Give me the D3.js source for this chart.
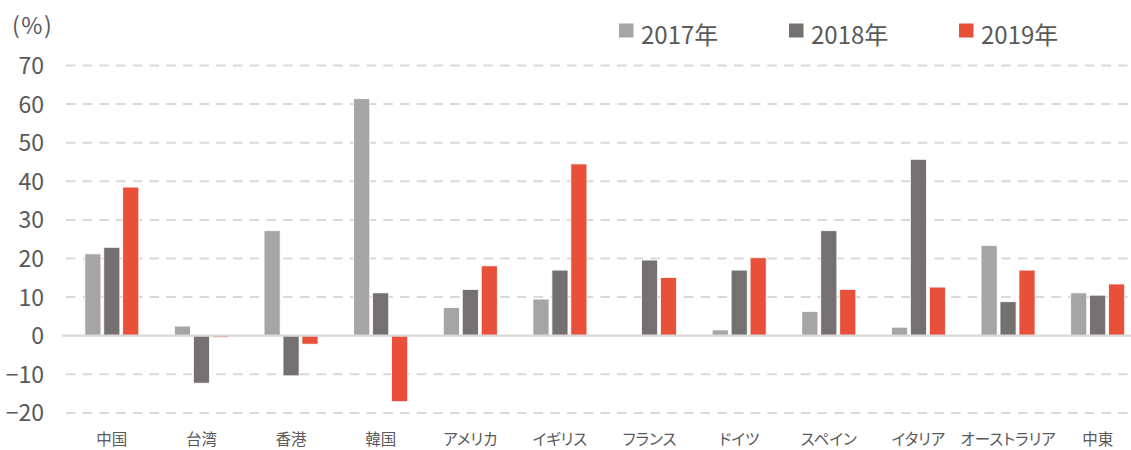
<!DOCTYPE html>
<html><head><meta charset="utf-8">
<script src="https://cdn.jsdelivr.net/npm/d3@7/dist/d3.min.js"></script>
<style>
body{margin:0;background:#fff;}
text{font-family:"Noto Sans CJK JP","Noto Sans",sans-serif;fill:#595959;}
.xl text{font-feature-settings:"palt" 1;}
</style></head>
<body><svg id="c" width="1131" height="450"></svg>
<script>
const categories = ["中国","台湾","香港","韓国","アメリカ","イギリス","フランス","ドイツ","スペイン","イタリア","オーストラリア","中東"];
const seriesNames = ["2017年","2018年","2019年"];
const v2017 = [21.2, 2.5, 27.2, 61.4, 7.3, 9.5, 0.2, 1.5, 6.3, 2.2, 23.4, 11.1];
const v2018 = [22.9, -12.3, -10.4, 11.1, 12.0, 17.0, 19.6, 17.0, 27.2, 45.7, 8.8, 10.5];
const v2019 = [38.5, -0.5, -2.2, -17.1, 18.1, 44.5, 15.1, 20.2, 12.0, 12.6, 17.0, 13.4];
const yTicks = [-20, -10, 0, 10, 20, 30, 40, 50, 60, 70];
const colors = ["#A5A5A5", "#767171", "#E8503A"];

const series = [v2017, v2018, v2019];
const svg = d3.select("#c");

const x0 = d3.scaleBand().domain(categories).range([67, 1142.5]).paddingInner(0).paddingOuter(0);
const x1 = d3.scaleBand().domain(d3.range(3)).range([-27, 27]).paddingInner(0.15);
const y = d3.scaleLinear().domain([-20, 70]).range([412.9, 65.5]);

// grid
svg.append("g").selectAll("line").data(yTicks.filter(t => t !== 0)).join("line")
  .attr("x1", 66).attr("x2", 1131)
  .attr("y1", d => y(d)).attr("y2", d => y(d))
  .attr("stroke", "#D9D9D9").attr("stroke-width", 2)
  .attr("stroke-dasharray", "9.5 7.2");

// y axis labels
const yAxis = d3.axisLeft(y).tickValues(yTicks).tickSize(0).tickPadding(0).tickFormat(d3.format("d"));
const ya = svg.append("g").attr("transform", "translate(44,0)").call(yAxis);
ya.select(".domain").remove();
ya.selectAll("text").attr("font-size", 23).attr("dy", "0.35em")
  .style("font-family", '"Noto Sans CJK JP","Noto Sans",sans-serif').attr("fill", "#595959");

// bars
const g = svg.append("g");
categories.forEach((c, i) => {
  series.forEach((s, k) => {
    const v = s[i];
    g.append("rect")
      .attr("x", x0(c) + x0.bandwidth() / 2 + x1(k))
      .attr("width", x1.bandwidth())
      .attr("y", y(Math.max(0, v)))
      .attr("height", Math.abs(y(v) - y(0)))
      .attr("fill", colors[k])
      .attr("stroke", "#fff").attr("stroke-width", 0.8);
  });
});

// zero line
svg.append("line").attr("x1", 62).attr("x2", 1131).attr("y1", y(0)).attr("y2", y(0))
  .attr("stroke", "#D9D9D9").attr("stroke-width", 2.2);

// x labels
const xAxis = d3.axisBottom(x0).tickSize(0).tickPadding(0);
const xa = svg.append("g").attr("class", "xl").attr("transform", "translate(0,445)").call(xAxis);
xa.select(".domain").remove();
xa.selectAll("text").attr("font-size", 15.5).attr("dy", 0).attr("y", 0)
  .style("font-family", '"Noto Sans CJK JP","Noto Sans",sans-serif').attr("fill", "#595959");

// unit
svg.append("text").attr("x", 12).attr("y", 34).attr("font-size", 23).attr("letter-spacing", 1.5).text("(%)");

// legend
const legX = [619, 789, 959];
seriesNames.forEach((n, k) => {
  svg.append("rect").attr("x", legX[k]).attr("y", 23.5).attr("width", 14.5).attr("height", 14).attr("fill", colors[k]);
  svg.append("text").attr("x", legX[k] + 22).attr("y", 44).attr("font-size", 24).text(n);
});
</script></body></html>
